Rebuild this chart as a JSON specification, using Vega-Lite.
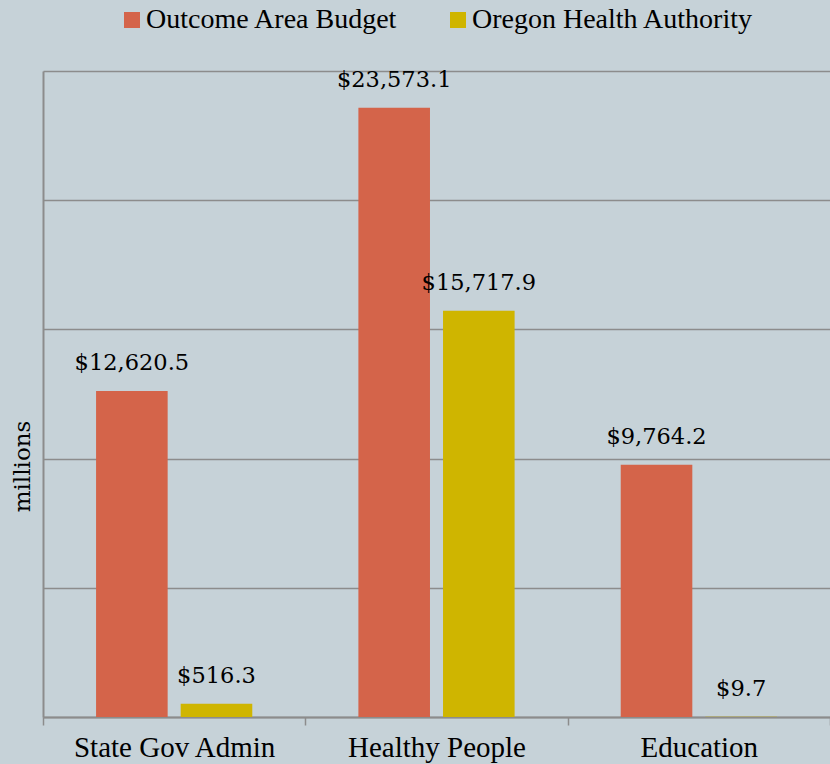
{
  "$schema": "https://vega.github.io/schema/vega-lite/v6.json",
  "autosize": {"type": "none"},
  "padding": {"left": 43, "top": 71, "right": 0, "bottom": 47},
  "width": 787,
  "height": 646,
  "background": "#c6d2d8",
  "config": {"view": {"stroke": null}},
  "data": {"values": [
    {"area": "State Gov Admin", "series": "Outcome Area Budget", "value": 12620.5, "label": "$12,620.5"},
    {"area": "State Gov Admin", "series": "Oregon Health Authority", "value": 516.3, "label": "$516.3"},
    {"area": "Healthy People", "series": "Outcome Area Budget", "value": 23573.1, "label": "$23,573.1"},
    {"area": "Healthy People", "series": "Oregon Health Authority", "value": 15717.9, "label": "$15,717.9"},
    {"area": "Education", "series": "Outcome Area Budget", "value": 9764.2, "label": "$9,764.2"},
    {"area": "Education", "series": "Oregon Health Authority", "value": 9.7, "label": "$9.7"}
  ]},
  "encoding": {
    "x": {"field": "area", "type": "nominal", "sort": ["State Gov Admin", "Healthy People", "Education"],
      "scale": {"paddingInner": 0, "paddingOuter": 0},
      "axis": {"title": null, "labelAngle": 0, "labelFont": "'Liberation Serif', 'Times New Roman', serif", "labelFontSize": 29, "labelColor": "#000000", "labelLimit": 300,
        "labelPadding": 8, "domainColor": "#8c8c8c", "domainWidth": 2, "tickColor": "#8c8c8c", "tickWidth": 1.5, "tickSize": 8, "tickBand": "extent", "grid": false}},
    "xOffset": {"field": "series", "type": "nominal", "sort": ["Outcome Area Budget", "Oregon Health Authority"],
      "scale": {"paddingInner": 0.154, "paddingOuter": 0.627}},
    "y": {"field": "value", "type": "quantitative", "scale": {"domain": [0, 25000], "nice": false},
      "axis": {"title": "millions", "values": [0, 5000, 10000, 15000, 20000, 25000], "labels": false, "ticks": false,
        "gridColor": "#8c8c8c", "gridWidth": 1.5, "domainColor": "#8c8c8c", "domainWidth": 2,
        "titleFont": "DejaVu Serif", "titleFontSize": 23, "titleFontWeight": "normal", "titleColor": "#000000",
        "titleX": -21, "titleY": 395, "titleAngle": -90, "titleAlign": "center", "titleBaseline": "middle"}}
  },
  "layer": [
    {"mark": {"type": "bar"},
      "encoding": {
        "color": {"field": "series", "type": "nominal", "sort": ["Outcome Area Budget", "Oregon Health Authority"],
          "scale": {"range": ["#d4644a", "#cfb500"]},
          "legend": {"title": null, "orient": "none", "direction": "horizontal", "legendX": 75, "legendY": -65,
            "symbolType": "square", "symbolSize": 256, "symbolStrokeWidth": 0, "symbolOpacity": 1,
            "labelFont": "'Liberation Serif', 'Times New Roman', serif", "labelFontSize": 28, "labelColor": "#000000", "labelOffset": 0,
            "columnPadding": 46, "labelLimit": 400}}
      }},
    {"mark": {"type": "text", "font": "DejaVu Serif", "fontSize": 22.5, "color": "#000000", "baseline": "bottom", "dy": -16},
      "encoding": {"text": {"field": "label"}}}
  ]
}
